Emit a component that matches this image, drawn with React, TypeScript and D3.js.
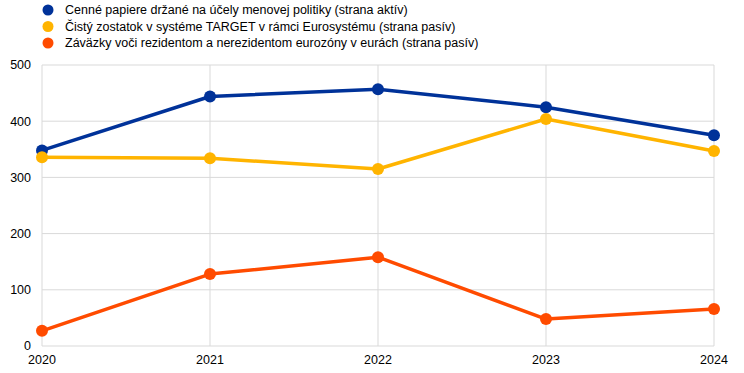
import React from 'react';
import * as d3 from 'd3';

const years = [2020, 2021, 2022, 2023, 2024];
const yTicks = [0, 100, 200, 300, 400, 500];

const securities = [348, 444, 457, 425, 375];
const target = [336, 334, 315, 404, 347];
const liabilities = [27, 128, 158, 48, 66];

const seriesNames = [
  'Cenné papiere držané na účely menovej politiky (strana aktív)',
  'Čistý zostatok v systéme TARGET v rámci Eurosystému (strana pasív)',
  'Záväzky voči rezidentom a nerezidentom eurozóny v eurách (strana pasív)',
];
const seriesColors = ['#003299', '#FFB400', '#FF4B00'];

export default function App() {
  const width = 744,
    height = 373;
  const margin = { left: 42, right: 30, top: 65, bottom: 27 };

  const x = d3
    .scaleLinear()
    .domain([2020, 2024])
    .range([margin.left, width - margin.right]);

  const y = d3
    .scaleLinear()
    .domain([0, 500])
    .range([height - margin.bottom, margin.top]);

  const line = d3
    .line<number>()
    .x((d, i) => x(years[i]))
    .y(d => y(d));

  const series = [securities, target, liabilities];
  const font = '"Liberation Sans", Arial, sans-serif';

  return (
    <svg
      width={width}
      height={height}
      style={{ position: 'absolute', left: 0, top: 0 }}
      fontFamily={font}
    >
      <rect width={width} height={height} fill="#fff" />
      {/* grid */}
      {yTicks.map(t => (
        <line key={'h' + t} x1={x(2020)} x2={x(2024)} y1={y(t)} y2={y(t)} stroke="#d9d9d9" strokeWidth={1} />
      ))}
      {years.map(yr => (
        <line key={'v' + yr} x1={x(yr)} x2={x(yr)} y1={y(0)} y2={y(500)} stroke="#d9d9d9" strokeWidth={1} />
      ))}
      {/* y labels */}
      {yTicks.map(t => (
        <text key={'yl' + t} x={31} y={y(t)} dy="0.35em" textAnchor="end" fontSize={12.5} fill="#000">
          {t}
        </text>
      ))}
      {/* x labels */}
      {years.map(yr => (
        <text key={'xl' + yr} x={x(yr)} y={y(0) + 18} textAnchor="middle" fontSize={12.5} fill="#000">
          {yr}
        </text>
      ))}
      {/* lines */}
      {series.map((s, i) => (
        <g key={'s' + i}>
          <path d={line(s) || ''} fill="none" stroke={seriesColors[i]} strokeWidth={3.5} strokeLinejoin="round" />
          {s.map((v, j) => (
            <circle key={j} cx={x(years[j])} cy={y(v)} r={6} fill={seriesColors[i]} />
          ))}
        </g>
      ))}
      {/* legend */}
      {seriesNames.map((n, i) => (
        <g key={'lg' + i} transform={`translate(0, ${10 + i * 16.5})`}>
          <circle cx={48} cy={0} r={5.5} fill={seriesColors[i]} />
          <text x={65} y={0} dy="0.35em" fontSize={12.5} fill="#000">
            {n}
          </text>
        </g>
      ))}
    </svg>
  );
}
